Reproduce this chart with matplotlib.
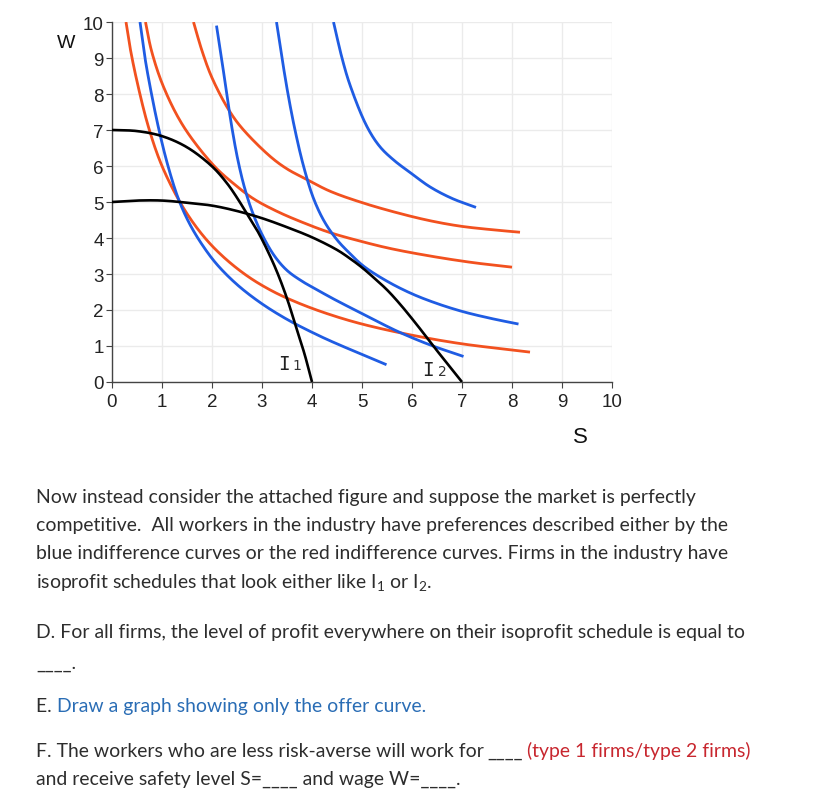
import numpy as np
import matplotlib
matplotlib.use("Agg")
import matplotlib.pyplot as plt

# ---------------- data ----------------
# red indifference curves (S, W)
r1_s = [0.28, 0.36, 0.5, 0.73, 1.0, 1.4, 1.8, 2.2, 2.7, 3.2, 3.7, 4.3, 5.0, 6.0, 7.0, 8.0, 8.36]
r1_w = [10.0, 9.3, 8.35, 7.08, 6.0, 4.9, 4.1, 3.51, 2.95, 2.53, 2.21, 1.9, 1.61, 1.3, 1.06, 0.89, 0.83]
r2_s = [0.67, 0.79, 1.03, 1.43, 2.03, 2.45, 2.83, 3.3, 3.8, 4.36, 5.0, 5.56, 6.36, 7.2, 8.0]
r2_w = [10.0, 9.2, 8.2, 7.1, 6.02, 5.49, 5.09, 4.74, 4.44, 4.15, 3.9, 3.71, 3.5, 3.32, 3.19]
r3_s = [1.63, 1.8, 2.0, 2.33, 2.6, 3.16, 3.5, 3.89, 4.36, 5.03, 5.76, 6.36, 6.96, 7.6, 8.16]
r3_w = [10.0, 9.2, 8.45, 7.57, 7.05, 6.27, 5.92, 5.63, 5.3, 4.97, 4.68, 4.48, 4.33, 4.23, 4.16]

# blue indifference curves (S, W)
b1_s = [0.56, 0.66, 0.79, 0.94, 1.12, 1.33, 1.55, 1.8, 2.09, 2.49, 2.96, 3.5, 4.09, 4.5, 5.03, 5.49]
b1_w = [10.0, 9.0, 8.0, 7.0, 6.0, 5.08, 4.4, 3.82, 3.28, 2.72, 2.21, 1.74, 1.32, 1.06, 0.75, 0.48]
b2_s = [2.09, 2.19, 2.29, 2.40, 2.52, 2.65, 2.8, 3.0, 3.25, 3.5, 3.8, 4.09, 4.4, 4.76, 5.03, 5.69, 6.36, 7.03]
b2_w = [9.9, 9.0, 8.05, 7.05, 6.15, 5.4, 4.75, 4.1, 3.5, 3.1, 2.8, 2.57, 2.33, 2.07, 1.88, 1.42, 1.03, 0.71]
b3_s = [3.29, 3.40, 3.52, 3.66, 3.83, 4.03, 4.25, 4.5, 4.75, 5.03, 5.5, 6.0, 6.5, 7.03, 7.6, 8.13]
b3_w = [10.0, 9.0, 8.0, 7.0, 6.0, 5.1, 4.45, 3.95, 3.58, 3.22, 2.8, 2.45, 2.18, 1.95, 1.76, 1.61]
b4_s = [4.43, 4.6, 4.76, 5.09, 5.35, 5.63, 6.0, 6.36, 6.8, 7.28]
b4_w = [10.0, 9.0, 8.25, 7.12, 6.55, 6.17, 5.78, 5.42, 5.1, 4.85]

# isoprofit curves I1, I2 (S, W)
k1_s = [0.0, 0.5, 1.0, 1.5, 2.0, 2.3, 2.5, 2.7, 2.9, 3.1, 3.3, 3.5, 3.7, 3.85, 4.0]
k1_w = [7.0, 6.97, 6.83, 6.52, 5.99, 5.52, 5.12, 4.67, 4.22, 3.68, 3.06, 2.32, 1.44, 0.78, 0.0]
k2_s = [0.0, 0.5, 1.0, 1.5, 2.0, 2.5, 3.0, 3.5, 4.0, 4.5, 4.75, 5.0, 5.25, 5.5, 5.75, 6.0, 6.25, 6.5, 6.75, 7.0]
k2_w = [5.0, 5.04, 5.04, 4.98, 4.9, 4.75, 4.55, 4.3, 4.02, 3.67, 3.44, 3.18, 2.88, 2.56, 2.18, 1.76, 1.32, 0.87, 0.44, 0.0]

x_ticks = list(range(0, 11))
y_ticks = list(range(0, 11))

RED = "#f2511f"
BLUE = "#1f5ce3"


def smooth(xs, ys, n=24, sx=50.0, sy=36.0, alpha=0.5):
    """Centripetal Catmull-Rom drawn through the read points."""
    P = np.column_stack([np.asarray(xs, float) * sx, np.asarray(ys, float) * sy])
    P = np.vstack([2 * P[0] - P[1], P, 2 * P[-1] - P[-2]])
    out = []
    for i in range(1, len(P) - 2):
        p0, p1, p2, p3 = P[i - 1], P[i], P[i + 1], P[i + 2]
        t0 = 0.0
        t1 = t0 + np.linalg.norm(p1 - p0) ** alpha
        t2 = t1 + np.linalg.norm(p2 - p1) ** alpha
        t3 = t2 + np.linalg.norm(p3 - p2) ** alpha
        t = np.linspace(t1, t2, n)[:, None]
        A1 = (t1 - t) / (t1 - t0) * p0 + (t - t0) / (t1 - t0) * p1
        A2 = (t2 - t) / (t2 - t1) * p1 + (t - t1) / (t2 - t1) * p2
        A3 = (t3 - t) / (t3 - t2) * p2 + (t - t2) / (t3 - t2) * p3
        B1 = (t2 - t) / (t2 - t0) * A1 + (t - t0) / (t2 - t0) * A2
        B2 = (t3 - t) / (t3 - t1) * A2 + (t - t1) / (t3 - t1) * A3
        C = (t2 - t) / (t2 - t1) * B1 + (t - t1) / (t2 - t1) * B2
        out.append(C if i == 1 else C[1:])
    C = np.vstack(out)
    return C[:, 0] / sx, C[:, 1] / sy


W_PX, H_PX = 817, 803
fig = plt.figure(figsize=(W_PX / 100, H_PX / 100), dpi=100)
fig.patch.set_facecolor("white")

ax = fig.add_axes([112 / W_PX, (H_PX - 383) / H_PX, 500 / W_PX, 360 / H_PX])
ax.set_xlim(0, 10)
ax.set_ylim(0, 10)
ax.set_xticks(x_ticks)
ax.set_yticks(y_ticks)
ax.grid(True, color="#ebebeb", lw=1.0, zorder=0)
ax.set_axisbelow(True)
for side in ("top", "right"):
    ax.spines[side].set_visible(False)
for side in ("left", "bottom"):
    ax.spines[side].set_color("#444444")
    ax.spines[side].set_linewidth(1.0)
ax.tick_params(axis="both", direction="out", length=4, width=0.8, color="#444444",
               labelsize=13.5, labelcolor="#222222")
ax.tick_params(axis="x", pad=4)
ax.tick_params(axis="y", pad=2)
for lab in ax.get_xticklabels() + ax.get_yticklabels():
    lab.set_fontfamily("Liberation Sans")

for s, w in [(r1_s, r1_w), (r2_s, r2_w), (r3_s, r3_w)]:
    xx, yy = smooth(s, w)
    ax.plot(xx, yy, color=RED, lw=2.0, solid_capstyle="butt", zorder=3)
for s, w in [(b1_s, b1_w), (b2_s, b2_w), (b3_s, b3_w), (b4_s, b4_w)]:
    xx, yy = smooth(s, w)
    ax.plot(xx, yy, color=BLUE, lw=2.0, solid_capstyle="butt", zorder=3)
for s, w in [(k1_s, k1_w), (k2_s, k2_w)]:
    xx, yy = smooth(s, w)
    ax.plot(xx, yy, color="black", lw=1.9, solid_capstyle="butt", zorder=4)

# I1 / I2 labels
ax.text(3.43, 0.36, "I", family="DejaVu Sans Mono", fontsize=14, color="#222222",
        ha="center", va="baseline", zorder=5)
ax.text(3.69, 0.36, "1", family="DejaVu Sans", fontsize=10, color="#333333",
        ha="center", va="baseline", zorder=5)
ax.text(6.33, 0.19, "I", family="DejaVu Sans Mono", fontsize=14, color="#222222",
        ha="center", va="baseline", zorder=5)
ax.text(6.60, 0.19, "2", family="DejaVu Sans", fontsize=10, color="#333333",
        ha="center", va="baseline", zorder=5)

# axis titles
fig.text(66 / W_PX, 1 - 44 / H_PX, "W", family="Liberation Sans", fontsize=14,
         color="#111111", ha="center", va="center")
fig.text(580 / W_PX, 1 - 438 / H_PX, "S", family="Liberation Sans", fontsize=16,
         color="#111111", ha="center", va="center")

# ---------------- question text ----------------
plt.rcParams["mathtext.fontset"] = "custom"
plt.rcParams["mathtext.rm"] = "Lato"
plt.rcParams["mathtext.it"] = "Lato:italic"

TXT = "#2d2d2d"
renderer = fig.canvas.get_renderer()
probe = fig.text(0, 0, "Now instead consider the attached figure and suppose the market is perfectly",
                 family="Lato", fontsize=12)
wpx = probe.get_window_extent(renderer).width
probe.remove()
FS = 12 * 658.0 / wpx


def line(xpx, ypx, s, color=TXT, size=None):
    fig.text(xpx / W_PX, 1 - ypx / H_PX, s, family="Lato", fontsize=size or FS, color=color,
             ha="left", va="baseline")


line(36, 503, "Now instead consider the attached figure and suppose the market is perfectly")
line(36, 531, "competitive.  All workers in the industry have preferences described either by the")
line(36, 559, "blue indifference curves or the red indifference curves. Firms in the industry have")
line(36, 588, r"isoprofit schedules that look either like $\mathrm{I}_1$ or $\mathrm{I}_2$.")
line(36, 638, "D. For all firms, the level of profit everywhere on their isoprofit schedule is equal to")
line(36, 669, "____.")
line(36, 712, "E. ")
line(57, 712, "Draw a graph showing only the offer curve.", color="#2a6db5")
line(36, 757, "F. The workers who are less risk-averse will work for")
line(487, 757, "____")
line(527, 757, "(type 1 firms/type 2 firms)", color="#c8272f")
line(36, 785, "and receive safety level S=____ and wage W=____.")

fig.savefig("out.png", dpi=100, facecolor="white")
